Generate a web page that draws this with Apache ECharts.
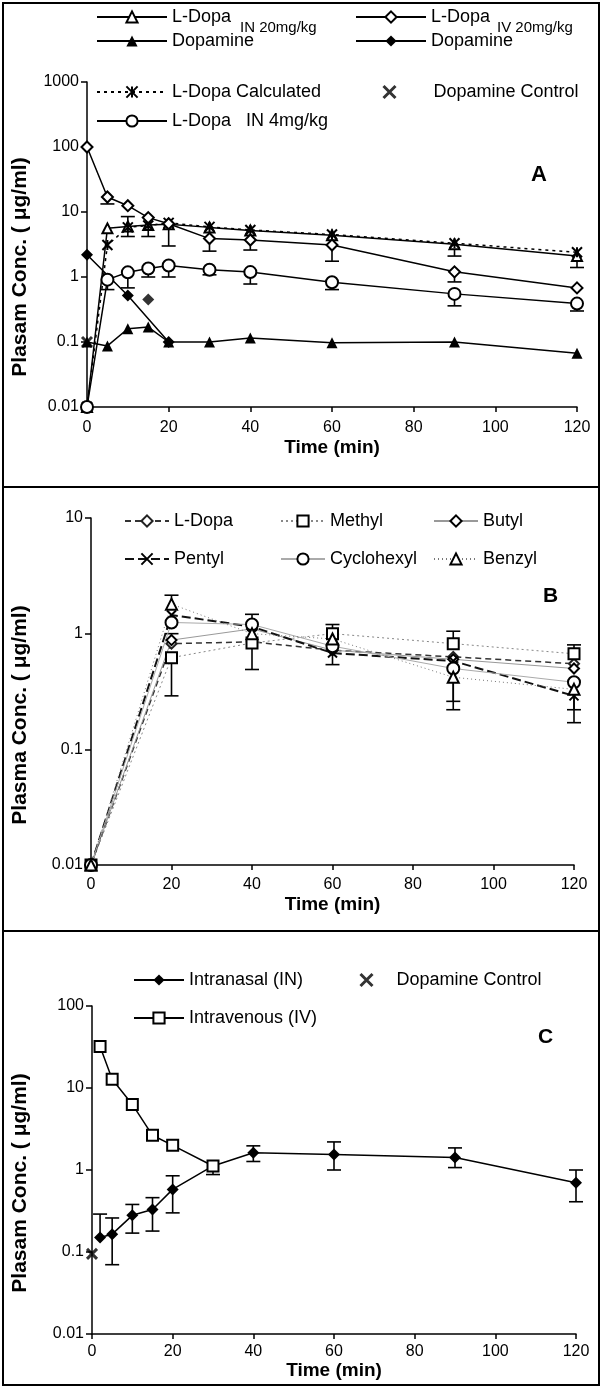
<!DOCTYPE html>
<html>
<head>
<meta charset="utf-8">
<script src="https://cdn.jsdelivr.net/npm/echarts@6/dist/echarts.min.js"></script>
<style>
html, body { margin: 0; padding: 0; background: #fff; }
#chart { width: 602px; height: 1388px; }
</style>
</head>
<body>
<div id="chart"></div>
<script>
// ---- panel A : L-Dopa / Dopamine, IN vs IV ----
var timeA = [0, 5, 10, 15, 20, 30, 40, 60, 90, 120];
var ldopaIN20 = [0.01, 5.6, 6.0, 6.3, 6.5, 5.8, 5.2, 4.4, 3.2, 2.1];
var dopamineIN20 = [0.1, 0.087, 0.16, 0.17, 0.1, 0.1, 0.115, 0.097, 0.1, 0.067];
var ldopaCalc = [0.01, 3.1, 5.8, 6.2, 6.8, 5.9, 5.3, 4.5, 3.3, 2.4];
var ldopaIV20 = [100, 17, 12.5, 8.2, 6.6, 3.9, 3.7, 3.1, 1.2, 0.68];
var ldopaIN4 = [0.01, 0.91, 1.18, 1.35, 1.5, 1.29, 1.19, 0.83, 0.55, 0.39];
var timeDopaIV = [0, 10, 20];
var dopamineIV20 = [2.2, 0.52, 0.1];
var dopamineIV20Extra = [[15, 0.45]];
var controlA = [[0, 0.1]];
// [time, mean, low, high]
var errA = [
  [5, 17, 13.3, 17], [10, 6.0, 4.2, 8.5], [15, 6.3, 4.2, 6.3], [20, 6.5, 3.0, 6.5],
  [30, 3.9, 2.5, 3.9], [40, 3.7, 2.6, 3.7], [60, 3.1, 1.75, 3.1], [90, 1.2, 0.84, 1.2],
  [90, 3.3, 2.1, 3.3], [120, 2.3, 1.4, 2.3],
  [5, 0.91, 0.64, 0.91], [10, 1.18, 0.68, 1.18], [15, 1.35, 1.0, 1.35], [20, 1.5, 1.0, 1.5],
  [30, 1.29, 1.08, 1.29], [40, 1.19, 0.78, 1.19], [60, 0.83, 0.64, 0.83], [90, 0.55, 0.36, 0.55],
  [120, 0.39, 0.3, 0.39]
];

// ---- panel B : prodrug esters ----
var timeB = [0, 20, 40, 60, 90, 120];
var ldopaB = [0.01, 0.82, 0.85, 0.72, 0.63, 0.55];
var methyl = [0.01, 0.62, 0.83, 1.0, 0.82, 0.67];
var butyl = [0.01, 0.88, 1.1, 0.72, 0.6, 0.5];
var pentyl = [0.01, 1.45, 1.15, 0.68, 0.58, 0.29];
var cyclohexyl = [0.01, 1.25, 1.2, 0.78, 0.5, 0.38];
var benzyl = [0.01, 1.8, 1.0, 0.9, 0.42, 0.33];
var errB = [
  [20, 1.8, 1.8, 2.15], [20, 0.62, 0.29, 0.62], [20, 0.82, 0.82, 1.0],
  [40, 1.2, 1.2, 1.47], [40, 0.83, 0.49, 0.83],
  [60, 1.0, 1.0, 1.2], [60, 0.68, 0.54, 0.68],
  [90, 0.82, 0.82, 1.05], [90, 0.42, 0.22, 0.42], [90, 0.5, 0.26, 0.5],
  [120, 0.67, 0.67, 0.8], [120, 0.29, 0.17, 0.29], [120, 0.33, 0.22, 0.33]
];

// ---- panel C : dopamine IN vs IV ----
var timeC = [2, 5, 10, 15, 20, 30, 40, 60, 90, 120];
var intranasal = [0.15, 0.165, 0.28, 0.33, 0.58, 1.12, 1.62, 1.55, 1.42, 0.7];
var timeCiv = [2, 5, 10, 15, 20, 30];
var intravenous = [32, 12.8, 6.3, 2.65, 2.0, 1.12];
var controlC = [[0, 0.095]];
var errC = [
  [2, 0.15, 0.15, 0.29], [5, 0.165, 0.07, 0.26], [10, 0.28, 0.17, 0.38], [15, 0.33, 0.18, 0.46],
  [20, 0.58, 0.3, 0.85], [30, 1.12, 0.88, 1.12], [40, 1.62, 1.27, 1.97], [60, 1.55, 1.0, 2.2],
  [90, 1.42, 1.07, 1.86], [120, 0.7, 0.41, 1.0]
];

var FONT = 'Liberation Sans';
var STAR = 'path://M0,0L10,10M10,0L0,10M5,0L5,10';
var CROSS = 'path://M0,0L10,10M10,0L0,10';

function zip(xs, ys) {
  return xs.map(function (x, i) { return [x, ys[i]]; });
}

var labels = {
  'L-Dopa IN 20mg/kg': 'L-Dopa',
  'Dopamine IN 20mg/kg': 'Dopamine',
  'L-Dopa IN 4mg/kg': 'L-Dopa   IN 4mg/kg',
  'L-Dopa IV 20mg/kg': 'L-Dopa',
  'Dopamine IV 20mg/kg': 'Dopamine',
  'Dopamine Control ': 'Dopamine Control'
};

// legend rows: [series name, left, row centre y, icon width]
var legendRows = [
  ['L-Dopa IN 20mg/kg', 96, 17, 70], ['Dopamine IN 20mg/kg', 96, 41, 70],
  ['L-Dopa Calculated', 96, 92, 70], ['L-Dopa IN 4mg/kg', 96, 121, 70],
  ['L-Dopa IV 20mg/kg', 355, 17, 70], ['Dopamine IV 20mg/kg', 355, 41, 70],
  ['L-Dopa', 124, 521, 44], ['Pentyl', 124, 559, 44],
  ['Methyl', 280, 521, 44], ['Cyclohexyl', 280, 559, 44],
  ['Butyl', 433, 521, 44], ['Benzyl', 433, 559, 44],
  ['Intranasal (IN)', 133, 980, 50], ['Intravenous (IV)', 133, 1018, 50]
];
// control marker legends: [series name, marker centre x, y, text x]
var controlRows = [
  ['Dopamine Control', 388, 92, 432],
  ['Dopamine Control ', 365, 980, 395]
];

function errRender(params, api) {
  var x = api.value(0), mid = api.value(1), lo = api.value(2), hi = api.value(3);
  var pLo = api.coord([x, lo]), pHi = api.coord([x, hi]);
  var st = { stroke: '#000', lineWidth: 1.6 };
  var kids = [{ type: 'line', shape: { x1: pLo[0], y1: pLo[1], x2: pHi[0], y2: pHi[1] }, style: st }];
  if (lo < mid) kids.push({ type: 'line', shape: { x1: pLo[0] - 7, y1: pLo[1], x2: pLo[0] + 7, y2: pLo[1] }, style: st });
  if (hi > mid) kids.push({ type: 'line', shape: { x1: pHi[0] - 7, y1: pHi[1], x2: pHi[0] + 7, y2: pHi[1] }, style: st });
  return { type: 'group', children: kids };
}

function lineSeries(name, idx, data, symbol, size, lineStyle, item) {
  return {
    name: name, type: 'line', xAxisIndex: idx, yAxisIndex: idx,
    data: data, symbol: symbol, symbolSize: size, clip: false,
    lineStyle: lineStyle, itemStyle: item || { color: '#000' }, z: 3
  };
}

function xAxis(idx, gap, margin) {
  return {
    type: 'value', gridIndex: idx, min: 0, max: 120, interval: 20,
    name: 'Time (min)', nameLocation: 'middle', nameGap: gap,
    nameTextStyle: { fontFamily: FONT, fontSize: 19, fontWeight: 'bold', color: '#000' },
    axisLine: { lineStyle: { color: '#000', width: 1.5 } },
    axisTick: { length: 5, lineStyle: { color: '#000', width: 1.5 } },
    axisLabel: { fontFamily: FONT, fontSize: 16, color: '#000', margin: margin },
    splitLine: { show: false }
  };
}

function yAxis(idx, min, max) {
  return {
    type: 'log', logBase: 10, gridIndex: idx, min: min, max: max,
    axisLine: { show: true, lineStyle: { color: '#000', width: 1.5 } },
    axisTick: { show: true, length: 6, lineStyle: { color: '#000', width: 1.5 } },
    axisLabel: {
      fontFamily: FONT, fontSize: 16, color: '#000', margin: 8,
      formatter: function (v) { return String(+v.toPrecision(2)); }
    },
    minorTick: { show: false },
    splitLine: { show: false }
  };
}

var legendText = { fontFamily: FONT, fontSize: 18, lineHeight: 18, color: '#000' };

var legends = legendRows.map(function (r) {
  return {
    left: r[1], top: r[2] - 9, orient: 'horizontal', data: [r[0]],
    itemWidth: r[3], itemHeight: 14, selectedMode: false, padding: 0,
    textStyle: legendText,
    formatter: function (n) { return labels[n] || n; }
  };
}).concat(controlRows.map(function (r) {
  return {
    left: r[1] - 6, top: r[2] - 9, orient: 'horizontal',
    data: [{ name: r[0], icon: CROSS }],
    itemWidth: 12, itemHeight: 12, selectedMode: false, padding: 0,
    itemStyle: { color: '#000', borderColor: '#000', borderWidth: 3 },
    textStyle: { fontFamily: FONT, fontSize: 18, lineHeight: 18, color: '#000', padding: [0, 0, 0, r[3] - (r[1] + 11)] },
    formatter: function (n) { return labels[n] || n; }
  };
}));

function txt(x, y, s, font, rot) {
  var g = { type: 'text', x: x, y: y, style: { text: s, font: font, fill: '#000', textVerticalAlign: 'middle' } };
  if (rot) { g.rotation = Math.PI / 2; g.style.textAlign = 'center'; }
  return g;
}

var blk = { color: '#000', width: 1.5 };
var titleFont = 'bold 21px ' + FONT;

var option = {
  backgroundColor: '#fff',
  animation: false,
  grid: [
    { left: 87, top: 82, width: 490, height: 325, outerBoundsMode: 'none' },
    { left: 91, top: 518, width: 483, height: 347, outerBoundsMode: 'none' },
    { left: 92, top: 1006, width: 484, height: 328, outerBoundsMode: 'none' }
  ],
  xAxis: [xAxis(0, 31, 13), xAxis(1, 30, 12), xAxis(2, 27, 10)],
  yAxis: [yAxis(0, 0.01, 1000), yAxis(1, 0.01, 10), yAxis(2, 0.01, 100)],
  legend: legends,
  graphic: [
    { type: 'rect', shape: { x: 3, y: 3, width: 596, height: 1382 }, style: { fill: 'none', stroke: '#000', lineWidth: 2 } },
    { type: 'line', shape: { x1: 3, y1: 487, x2: 599, y2: 487 }, style: { stroke: '#000', lineWidth: 2 } },
    { type: 'line', shape: { x1: 3, y1: 931, x2: 599, y2: 931 }, style: { stroke: '#000', lineWidth: 2 } },
    txt(240, 28, 'IN 20mg/kg', '15px ' + FONT),
    txt(497, 28, 'IV 20mg/kg', '15px ' + FONT),
    txt(531, 175, 'A', 'bold 22px ' + FONT),
    txt(543, 596, 'B', 'bold 21px ' + FONT),
    txt(538, 1037, 'C', 'bold 21px ' + FONT),
    txt(20, 267, 'Plasam Conc. ( \u03bcg/ml)', titleFont, true),
    txt(20, 715, 'Plasma Conc. ( \u03bcg/ml)', titleFont, true),
    txt(20, 1183, 'Plasam Conc. ( \u03bcg/ml)', titleFont, true)
  ],
  series: [
    // panel A
    { type: 'custom', xAxisIndex: 0, yAxisIndex: 0, data: errA, renderItem: errRender, encode: { x: 0, y: [1, 2, 3] }, z: 2, silent: true },
    lineSeries('L-Dopa IN 20mg/kg', 0, zip(timeA, ldopaIN20), 'emptyTriangle', 10, blk),
    lineSeries('Dopamine IN 20mg/kg', 0, zip(timeA, dopamineIN20), 'triangle', 11, blk),
    lineSeries('L-Dopa Calculated', 0, zip(timeA, ldopaCalc), STAR, 10, { color: '#000', width: 1.5, type: [3, 4] },
      { color: '#000', borderColor: '#000', borderWidth: 2 }),
    lineSeries('L-Dopa IN 4mg/kg', 0, zip(timeA, ldopaIN4), 'emptyCircle', 12, blk),
    lineSeries('L-Dopa IV 20mg/kg', 0, zip(timeA, ldopaIV20), 'emptyDiamond', 11, blk),
    lineSeries('Dopamine IV 20mg/kg', 0, zip(timeDopaIV, dopamineIV20), 'diamond', 12, blk),
    { type: 'scatter', xAxisIndex: 0, yAxisIndex: 0, data: dopamineIV20Extra, symbol: 'diamond', symbolSize: 12, itemStyle: { color: '#000' }, z: 3 },
    { name: 'Dopamine Control', type: 'scatter', xAxisIndex: 0, yAxisIndex: 0, data: controlA, symbol: CROSS, symbolSize: 10,
      itemStyle: { color: '#000', borderColor: '#000', borderWidth: 3 }, z: 4 },
    // panel B
    { type: 'custom', xAxisIndex: 1, yAxisIndex: 1, data: errB, renderItem: errRender, encode: { x: 0, y: [1, 2, 3] }, z: 2, silent: true },
    lineSeries('L-Dopa', 1, zip(timeB, ldopaB), 'emptyDiamond', 10, { color: '#333', width: 1.5, type: [6, 4] }, { color: '#222' }),
    lineSeries('Methyl', 1, zip(timeB, methyl), 'emptyRect', 11, { color: '#888', width: 1, type: [2, 3] }, { color: '#000' }),
    lineSeries('Butyl', 1, zip(timeB, butyl), 'emptyDiamond', 10, { color: '#999', width: 1 }, { color: '#000' }),
    lineSeries('Pentyl', 1, zip(timeB, pentyl), CROSS, 9, { color: '#111', width: 2, type: [9, 4] },
      { color: '#000', borderColor: '#000', borderWidth: 2 }),
    lineSeries('Cyclohexyl', 1, zip(timeB, cyclohexyl), 'emptyCircle', 12, { color: '#aaa', width: 1 }, { color: '#000' }),
    lineSeries('Benzyl', 1, zip(timeB, benzyl), 'emptyTriangle', 11, { color: '#777', width: 1, type: [1, 3] }, { color: '#000' }),
    // panel C
    { type: 'custom', xAxisIndex: 2, yAxisIndex: 2, data: errC, renderItem: errRender, encode: { x: 0, y: [1, 2, 3] }, z: 2, silent: true },
    lineSeries('Intranasal (IN)', 2, zip(timeC, intranasal), 'diamond', 12, blk),
    lineSeries('Intravenous (IV)', 2, zip(timeCiv, intravenous), 'emptyRect', 11, blk),
    { name: 'Dopamine Control ', type: 'scatter', xAxisIndex: 2, yAxisIndex: 2, data: controlC, symbol: CROSS, symbolSize: 10,
      itemStyle: { color: '#000', borderColor: '#000', borderWidth: 3 }, z: 4 }
  ]
};

var chart = echarts.init(document.getElementById('chart'), null, { renderer: 'canvas' });
chart.setOption(option);
</script>
</body>
</html>
